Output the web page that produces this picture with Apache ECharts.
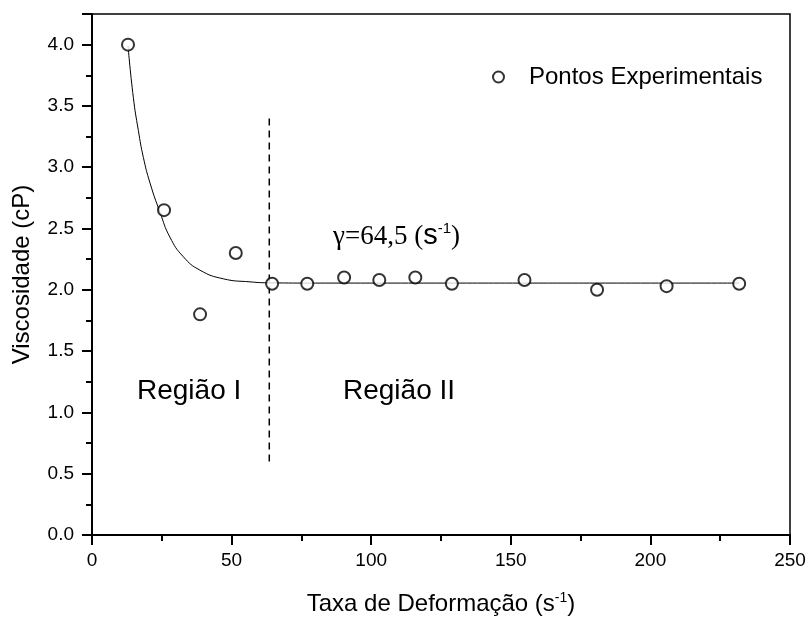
<!DOCTYPE html>
<html>
<head>
<meta charset="utf-8">
<script src="https://cdn.jsdelivr.net/npm/echarts@6/dist/echarts.min.js"></script>
<style>html,body{margin:0;padding:0;background:#fff}#c{width:810px;height:617px}</style>
</head>
<body>
<div id="c"></div>
<script>
// Experimental points
const expX = [12.9, 25.8, 38.7, 51.5, 64.5, 77.1, 90.3, 102.9, 115.8, 128.9, 154.9, 180.9, 205.8, 231.8];
const expY = [4.0, 2.65, 1.80, 2.30, 2.05, 2.05, 2.10, 2.08, 2.10, 2.05, 2.08, 2.00, 2.03, 2.05];
// Fitted curve
const fitX = [12.9, 14.8, 16.6, 18.4, 20.8, 24.4, 27.9, 32.7, 38.7, 47.0, 56.6, 63.8, 80, 120, 160, 200, 231.8];
const fitY = [3.99, 3.57, 3.30, 3.08, 2.87, 2.63, 2.43, 2.27, 2.16, 2.09, 2.065, 2.057, 2.055, 2.055, 2.055, 2.055, 2.055];
// Dashed separator
const sepX = [63.5, 63.5];
const sepY = [0.60, 3.41];

const SANS = '"Liberation Sans", Arial, sans-serif';
const SERIF = '"Liberation Serif", "Times New Roman", serif';

const zip = (a, b) => a.map((v, i) => [v, b[i]]);

const chart = echarts.init(document.getElementById('c'), null, {renderer: 'canvas'});
chart.setOption({
  animation: false,
  backgroundColor: '#fff',
  grid: {left: 92, right: 20, top: 14, bottom: 82, containLabel: false, outerBoundsMode: 'none',
    show: true, borderColor: '#000', borderWidth: 1.5, backgroundColor: 'transparent'},
  legend: {
    data: ['Pontos Experimentais'],
    left: 487, top: 60,
    itemWidth: 11, itemHeight: 11, itemGap: 10,
    textStyle: {fontFamily: SANS, fontSize: 24, color: '#000', padding: [0, 0, 0, 20]}
  },
  xAxis: {
    type: 'value', min: 0, max: 250, interval: 50,
    name: '{a|Taxa de Deformação (s}{s|-1}{a|)}',
    nameLocation: 'middle', nameGap: 56,
    nameTextStyle: {rich: {
      a: {fontFamily: SANS, fontSize: 24, color: '#000'},
      s: {fontFamily: SANS, fontSize: 14, color: '#000', verticalAlign: 'top', padding: [0, 0, 12, 0]}
    }},
    axisLine: {show: true, onZero: false, lineStyle: {color: '#000', width: 2}},
    axisTick: {show: true, inside: false, length: 10, lineStyle: {color: '#000', width: 2}},
    minorTick: {show: true, splitNumber: 2, length: 6, lineStyle: {color: '#000', width: 2}},
    axisLabel: {fontFamily: SANS, fontSize: 19, color: '#000', margin: 16},
    splitLine: {show: false}
  },
  yAxis: {
    type: 'value', min: 0, max: 4.25, interval: 0.5,
    name: 'Viscosidade (cP)',
    nameLocation: 'middle', nameGap: 58,
    nameTextStyle: {fontFamily: SANS, fontSize: 24, color: '#000'},
    axisLine: {show: true, onZero: false, lineStyle: {color: '#000', width: 2}},
    axisTick: {show: true, inside: false, length: 10, lineStyle: {color: '#000', width: 2}},
    minorTick: {show: true, splitNumber: 2, length: 6, lineStyle: {color: '#000', width: 2}},
    axisLabel: {fontFamily: SANS, fontSize: 19, color: '#000', margin: 18, showMaxLabel: false,
      formatter: v => v.toFixed(1)},
    splitLine: {show: false}
  },
  series: [
    {
      name: 'Ajuste', type: 'line', data: zip(fitX, fitY),
      showSymbol: false, smooth: 0.5,
      lineStyle: {color: '#000', width: 1}, z: 2, silent: true
    },
    {
      name: 'Separador', type: 'line', data: zip(sepX, sepY),
      showSymbol: false,
      lineStyle: {color: '#000', width: 1.5, type: [7, 5]}, z: 2, silent: true
    },
    {
      name: 'Pontos Experimentais', type: 'scatter', data: zip(expX, expY),
      symbol: 'emptyCircle', symbolSize: 12,
      itemStyle: {color: '#000', borderColor: '#000', borderWidth: 1}, z: 3
    }
  ],
  graphic: [
    {type: 'text', left: 137, top: 377, style: {text: 'Região I', font: '28px ' + SANS, fill: '#000'}},
    {type: 'text', left: 343, top: 377, style: {text: 'Região II', font: '28px ' + SANS, fill: '#000'}},
    {type: 'text', left: 333, top: 221, style: {
      text: '{g|γ=64,5 (}{s|s}{p|-1}{g|)}',
      rich: {
        g: {fontFamily: SERIF, fontSize: 27, fill: '#000', verticalAlign: 'bottom'},
        s: {fontFamily: SANS, fontSize: 29, fill: '#000', verticalAlign: 'bottom'},
        p: {fontFamily: SANS, fontSize: 15, fill: '#000', verticalAlign: 'top'}
      }
    }}
  ]
});
</script>
</body>
</html>
